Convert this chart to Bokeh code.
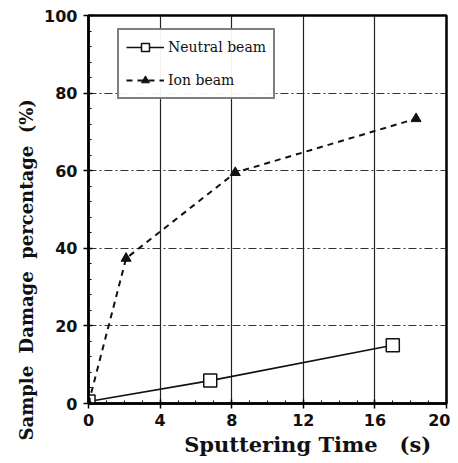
from bokeh.plotting import figure
from bokeh.models import Range1d, FixedTicker, Legend, LegendItem, Title
from bokeh.embed import file_html
from bokeh.resources import INLINE

neutral_t = [0, 6.8, 17.0]
neutral_v = [0.5, 5.9, 15.0]
ion_t = [0, 2.1, 8.2, 18.3]
ion_v = [0, 37.4, 59.5, 73.4]
x_ticks = [0, 4, 8, 12, 16, 20]
y_ticks = [0, 20, 40, 60, 80, 100]

NB = "\u00a0"

p = figure(width=450, height=460, output_backend="svg", toolbar_location=None,
           x_range=Range1d(0, 20), y_range=Range1d(0, 100),
           min_border_left=88, min_border_right=4, min_border_top=15, min_border_bottom=57)
p.outline_line_color = "black"
p.outline_line_width = 2.5
p.background_fill_color = "white"
p.border_fill_color = "white"

for ax in (p.xaxis[0], p.yaxis[0]):
    ax.axis_line_width = 2.5
    ax.axis_line_color = "black"
    ax.major_tick_in = 4
    ax.major_tick_out = 5
    ax.minor_tick_in = 3
    ax.minor_tick_out = 0
    ax.major_tick_line_width = 1.5
    ax.major_label_text_font = "DejaVu Sans"
    ax.major_label_text_font_style = "bold"
    ax.major_label_text_font_size = "16px"
    ax.major_label_text_color = "#111111"
    ax.axis_label_text_font = "DejaVu Serif"
    ax.axis_label_text_font_style = "bold"
    ax.axis_label_text_color = "#111111"

p.xaxis[0].ticker = FixedTicker(ticks=x_ticks, minor_ticks=[i for i in range(0, 21)])
p.yaxis[0].ticker = FixedTicker(ticks=y_ticks, minor_ticks=[i * 4 for i in range(0, 26)])
p.xaxis[0].major_label_standoff = 5
p.yaxis[0].major_label_standoff = 6

p.xaxis[0].axis_label = NB * 11 + "Sputtering Time" + NB * 3 + "(s)"
p.xaxis[0].axis_label_text_font_size = "21px"
p.xaxis[0].axis_label_standoff = 3

ytitle = Title(text="Sample" + NB * 2 + "Damage" + NB * 2 + "percentage" + NB * 2 + "(%)",
               align="left", offset=-37, standoff=10,
               text_font="DejaVu Serif", text_font_style="bold", text_font_size="18px",
               text_color="#111111")
p.add_layout(ytitle, "left")

p.xgrid.grid_line_color = "#222222"
p.xgrid.grid_line_width = 1.2
p.ygrid.grid_line_color = "#333333"
p.ygrid.grid_line_width = 1
p.ygrid.grid_line_dash = "8 3 2 3"

nl = p.line(neutral_t, neutral_v, line_color="#111111", line_width=1.6)
ns = p.scatter(neutral_t, neutral_v, marker="square", size=13, fill_color="white",
               line_color="#111111", line_width=1.5)
il = p.line(ion_t, ion_v, line_color="#111111", line_width=2, line_dash="6 5")
it = p.scatter(ion_t, ion_v, marker="triangle", size=10, fill_color="#111111",
               line_color="#111111")

legend = Legend(items=[LegendItem(label="Neutral beam", renderers=[nl, ns]),
                       LegendItem(label="Ion beam", renderers=[il, it])],
                location=(29, 304))
legend.border_line_color = "black"
legend.border_line_width = 2
legend.label_text_font = "DejaVu Serif"
legend.label_text_font_size = "14px"
legend.label_text_color = "#111111"
legend.glyph_width = 38
legend.label_standoff = 4
legend.label_height = 20
legend.spacing = 13
legend.padding = 7
legend.margin = 0
p.add_layout(legend, "center")

open("out.html", "w").write(file_html(p, INLINE))
